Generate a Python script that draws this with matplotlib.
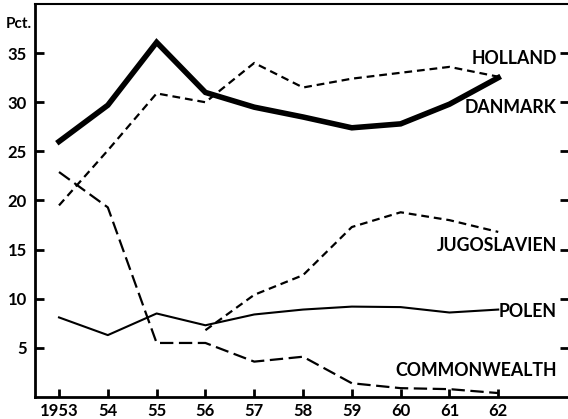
import matplotlib
matplotlib.use("Agg")
import matplotlib.pyplot as plt

years = [1953, 1954, 1955, 1956, 1957, 1958, 1959, 1960, 1961, 1962]
year_labels = ["1953", "54", "55", "56", "57", "58", "59", "60", "61", "62"]
danmark = [26.0, 29.7, 36.1, 31.0, 29.5, 28.5, 27.4, 27.8, 29.8, 32.5]
holland = [19.5, 25.1, 30.9, 30.0, 34.0, 31.5, 32.4, 33.0, 33.6, 32.6]
jug_years = [1956, 1957, 1958, 1959, 1960, 1961, 1962]
jugoslavien = [6.8, 10.4, 12.4, 17.3, 18.8, 18.0, 16.8]
polen = [8.1, 6.3, 8.5, 7.3, 8.4, 8.9, 9.2, 9.15, 8.6, 8.9]
commonwealth = [22.9, 19.3, 5.5, 5.5, 3.6, 4.1, 1.4, 0.9, 0.8, 0.4]
yticks = [5, 10, 15, 20, 25, 30, 35]

plt.rcParams['font.family'] = ['Lato', 'DejaVu Sans']
plt.rcParams['font.weight'] = 'bold'

fig = plt.figure(figsize=(5.68, 4.19), dpi=100)
ax = fig.add_axes([35/568, 1-397/419, 534/568, 393/419])
ax.set_xlim(1952.508, 1963.45)
ax.set_ylim(0, 40)

ax.plot(years, danmark, color='black', lw=4.0, solid_joinstyle='miter')
ax.plot(years, holland, color='black', lw=1.6, dashes=(3.5, 2.2))
ax.plot(jug_years, jugoslavien, color='black', lw=1.6, dashes=(3.5, 2.2))
ax.plot(years, polen, color='black', lw=1.5)
ax.plot(years, commonwealth, color='black', lw=1.6, dashes=(6, 2.5))

ax.spines['left'].set_linewidth(2)
ax.spines['bottom'].set_linewidth(2)
ax.spines['top'].set_linewidth(1.5)
ax.spines['right'].set_color('none')

ax.set_xticks(years)
ax.set_xticklabels(year_labels, fontsize=12, fontweight='bold')
ax.set_yticks(yticks)
ax.set_yticklabels([str(v) for v in yticks], fontsize=12, fontweight='bold')
ax.yaxis.set_ticks_position('both')
ax.tick_params(axis='x', direction='in', length=6, width=2, pad=4)
ax.tick_params(axis='y', which='major', direction='in', length=6.5, width=2, pad=6,
               left=True, right=True, labelleft=True, labelright=False)

fs = 12.8
xr = 1963.2
ax.text(xr, 34.5, "HOLLAND", ha='right', va='center', fontsize=fs, fontweight='bold')
ax.text(xr, 29.5, "DANMARK", ha='right', va='center', fontsize=fs, fontweight='bold')
ax.text(xr, 15.45, "JUGOSLAVIEN", ha='right', va='center', fontsize=fs, fontweight='bold')
ax.text(xr, 8.75, "POLEN", ha='right', va='center', fontsize=fs, fontweight='bold')
ax.text(xr, 2.65, "COMMONWEALTH", ha='right', va='center', fontsize=fs, fontweight='bold')

fig.text(19/568, 1-24/419, "Pct.", ha='center', va='center', fontsize=11, fontweight='bold')

fig.savefig("out.png", dpi=100)
